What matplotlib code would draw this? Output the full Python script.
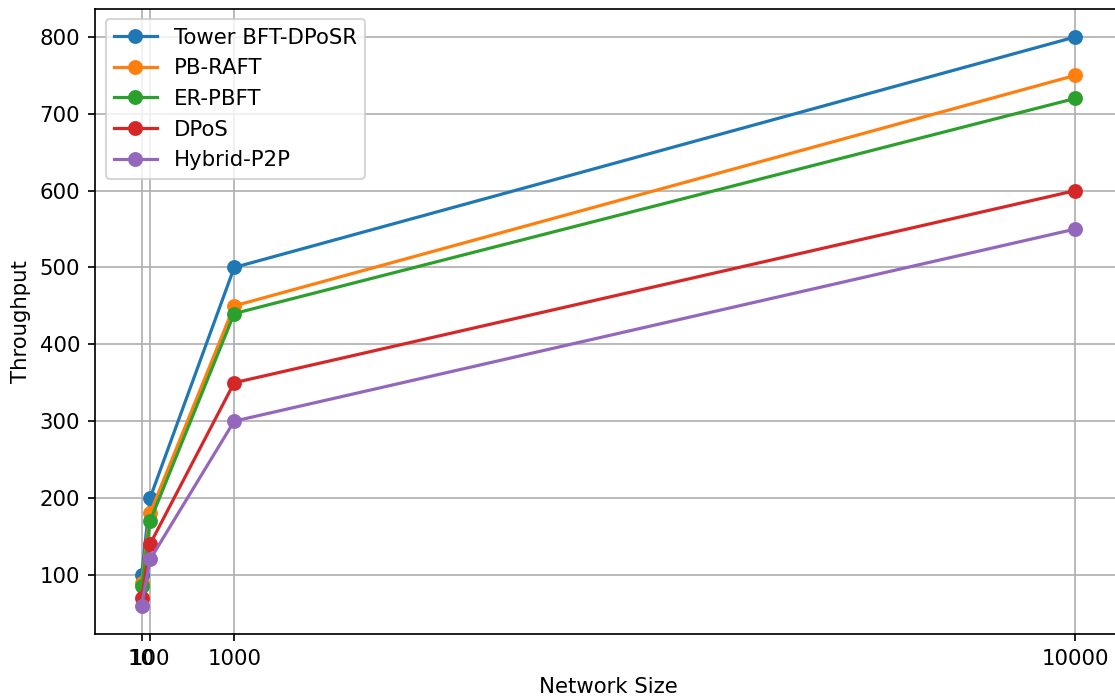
import matplotlib
matplotlib.use("Agg")
import matplotlib.pyplot as plt

network_sizes = [10, 100, 1000, 10000]
tower_bft_dposr = [100, 200, 500, 800]
pb_raft = [90, 180, 450, 750]
er_pbft = [85, 170, 440, 720]
dpos = [70, 140, 350, 600]
hybrid_p2p = [60, 120, 300, 550]

series = [
    ("Tower BFT-DPoSR", tower_bft_dposr),
    ("PB-RAFT", pb_raft),
    ("ER-PBFT", er_pbft),
    ("DPoS", dpos),
    ("Hybrid-P2P", hybrid_p2p),
]

dpi = 153
fig = plt.figure(figsize=(1115 / dpi, 700 / dpi), dpi=dpi)
W, H = 1115, 700
left, right, top, bottom = 95, 1122, 8.5, 634
ax = fig.add_axes([left / W, (H - bottom) / H, (right - left) / W, (bottom - top) / H])

for name, vals in series:
    ax.plot(network_sizes, vals, marker="o", label=name)

ax.set_xticks(network_sizes)
ax.set_xticklabels([str(v) for v in network_sizes])
ax.set_xlabel("Network Size")
ax.set_ylabel("Throughput")
ax.grid(True)
ax.legend(loc="upper left")

fig.savefig("out.png", dpi=dpi)
